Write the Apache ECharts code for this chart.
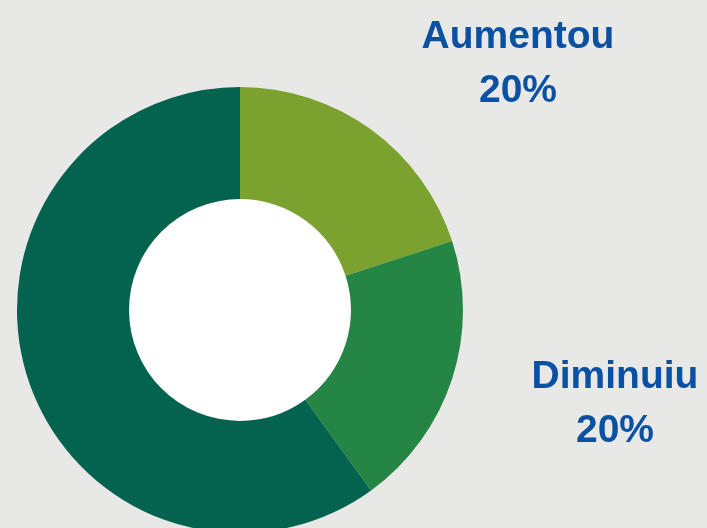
<!DOCTYPE html>
<html>
<head>
<meta charset="utf-8">
<script src="https://cdn.jsdelivr.net/npm/echarts@6/dist/echarts.min.js"></script>
<style>
  html, body { margin: 0; padding: 0; background: #e8e8e6; }
  #chart { width: 707px; height: 528px; }
</style>
</head>
<body>
<div id="chart"></div>
<script>
// dados do gráfico
const categorias = ['Aumentou', 'Diminuiu', 'Manteve']
const valores = [20, 20, 60]
const cores = ['#7ba22f', '#248545', '#03634f']
const rotuloVisivel = [true, true, false]

// posição dos rótulos (x, y) por fatia
const posRotulos = [[518, 64], [615, 404], [0, 0]]

const chart = echarts.init(document.getElementById('chart'))

chart.setOption({
  backgroundColor: '#e8e8e6',
  animation: false,
  series: [
    {
      // furo branco no meio
      type: 'pie',
      silent: true,
      center: [240, 310],
      radius: [0, 111],
      label: { show: false },
      labelLine: { show: false },
      itemStyle: { color: '#ffffff' },
      data: [{ value: 1, name: '' }]
    },
    {
      type: 'pie',
      center: [240, 310],
      radius: [111, 223],
      startAngle: 90,
      clockwise: true,
      data: categorias.map((nome, i) => ({
        name: nome,
        value: valores[i],
        itemStyle: { color: cores[i] },
        label: { show: rotuloVisivel[i] }
      })),
      label: {
        formatter: '{b}\n{d}%',
        color: '#0a51a3',
        fontFamily: 'Liberation Sans, Arial, sans-serif',
        fontWeight: 'bold',
        fontSize: 39,
        lineHeight: 54,
        align: 'center'
      },
      labelLine: { show: false },
      labelLayout: function (params) {
        const p = posRotulos[params.dataIndex]
        return { x: p[0], y: p[1], align: 'center', verticalAlign: 'middle' }
      }
    }
  ]
})
</script>
</body>
</html>
